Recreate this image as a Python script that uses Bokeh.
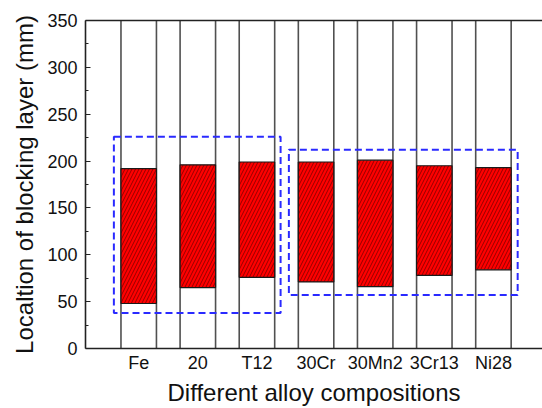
from bokeh.plotting import figure
from bokeh.models import FixedTicker, LinearAxis, Range1d, ColumnDataSource
from bokeh.embed import file_html
from bokeh.resources import INLINE

# ---- data ----
alloys = ["Fe", "20", "T12", "30Cr", "30Mn2", "3Cr13", "Ni28"]
bottoms = [48, 65, 76, 71, 66, 78, 84]
tops = [192, 196, 199, 199, 201, 195, 193]

# dashed grouping boxes (first/last category index, lower/upper value)
box_first = [1, 4]
box_last = [3, 7]
box_low = [38, 57]
box_high = [226, 212]

y_ticks = [0, 50, 100, 150, 200, 250, 300, 350]

# ---- style constants ----
BAR_W = 0.6
FONT = "Liberation Sans"
Y_MAX = 350

xs = list(range(1, len(alloys) + 1))

p = figure(width=542, height=408, output_backend="svg", toolbar_location=None,
           x_range=Range1d(0.1, 7.83), y_range=Range1d(0, Y_MAX),
           min_border_left=85, min_border_right=0, min_border_top=20,
           min_border_bottom=56)
p.outline_line_color = None
p.xgrid.visible = False
p.ygrid.visible = False
p.background_fill_color = "white"

# vertical lines at each bar's edges spanning full height
edges = []
for x in xs:
    edges += [x - BAR_W / 2, x + BAR_W / 2]
p.segment(x0=edges, x1=edges, y0=[0] * len(edges), y1=[Y_MAX] * len(edges),
          line_color="#505050", line_width=1.6)

# floating bars
src = ColumnDataSource(dict(x=xs, bottom=bottoms, top=tops))
p.vbar(x="x", width=BAR_W, bottom="bottom", top="top", source=src,
       fill_color="#ff0000", line_color="#1a1a1a", line_width=1.2,
       hatch_pattern="/", hatch_color="#000000", hatch_alpha=0.6,
       hatch_scale=7, hatch_weight=0.7)

# dashed boxes
pad_l = [0.42, 0.46]
pad_r = [0.40, 0.41]
p.quad(left=[f - pl for f, pl in zip(box_first, pad_l)],
       right=[l + pr for l, pr in zip(box_last, pad_r)],
       bottom=box_low, top=box_high,
       fill_color=None, line_color="#2a2aff", line_width=2, line_dash="7 4")

# axes
xa = p.xaxis[0]
xa.ticker = FixedTicker(ticks=xs)
xa.major_label_overrides = {x: a for x, a in zip(xs, alloys)}
xa.major_tick_line_color = None
xa.minor_tick_line_color = None
xa.axis_line_color = "#222222"
xa.axis_line_width = 1.6
xa.major_label_text_font = FONT
xa.major_label_text_font_size = "18px"
xa.major_label_text_color = "#111111"
xa.major_label_standoff = -2
xa.axis_label = "Different alloy compositions"
xa.axis_label_text_font = FONT
xa.axis_label_text_font_size = "24px"
xa.axis_label_text_font_style = "normal"
xa.axis_label_text_color = "#111111"
xa.axis_label_standoff = 3

ya = p.yaxis[0]
ya.ticker = FixedTicker(ticks=y_ticks, minor_ticks=[t + 25 for t in y_ticks[:-1]])
ya.major_tick_in = 5
ya.major_tick_out = 0
ya.minor_tick_in = 3
ya.minor_tick_out = 0
ya.major_tick_line_color = "#222222"
ya.minor_tick_line_color = "#222222"
ya.axis_line_color = "#222222"
ya.axis_line_width = 1.6
ya.major_label_text_font = FONT
ya.major_label_text_font_size = "18px"
ya.major_label_text_color = "#111111"
ya.major_label_standoff = 8
ya.axis_label = "Localtion of blocking layer (mm)"
ya.axis_label_text_font = FONT
ya.axis_label_text_font_size = "24px"
ya.axis_label_text_font_style = "normal"
ya.axis_label_text_color = "#111111"
ya.axis_label_standoff = 6

top_axis = LinearAxis(ticker=FixedTicker(ticks=[]), axis_line_color="#222222",
                      axis_line_width=1.6, major_label_text_font_size="0px",
                      major_tick_line_color=None, minor_tick_line_color=None)
p.add_layout(top_axis, "above")

open("out.html", "w").write(file_html(p, INLINE))
